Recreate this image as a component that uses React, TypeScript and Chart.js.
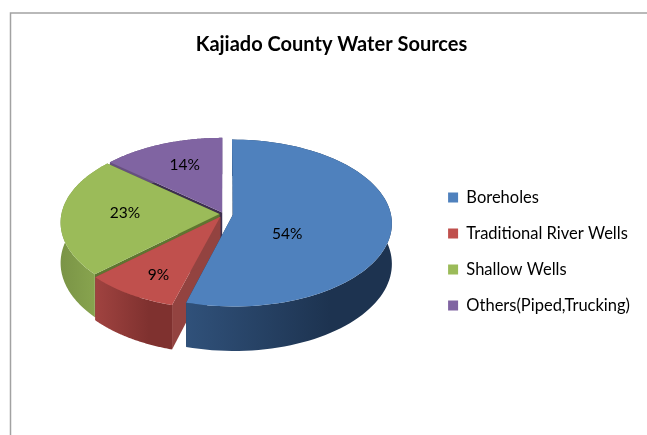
import React, { useEffect, useRef } from "react";
import { Chart, registerables } from "chart.js";

Chart.register(...registerables);

const chartTitle = "Kajiado County Water Sources";
const categories = ["Boreholes", "Traditional River Wells", "Shallow Wells", "Others(Piped,Trucking)"];
const shares = [54.4, 8.7, 23.2, 13.7];
const faceColors = ["#4f81bd", "#c0504d", "#9bbb59", "#8064a2"];
const wallLeftColors = ["#30517a", "#a04340", "#7a9446", "#66507f"];
const wallRightColors = ["#1d3350", "#7f312f", "#87a34e", "#66507f"];
const cutWallColors = ["#1d3350", "#934340", "#5f7530", "#3d2f4f"];
const sliceOffsets = [9.5, 6, 4, 3];
const labelShifts = [[-13.5, 14], [0, 6], [3.5, -2.5], [1, -4]];
const labelReach = [0.43, 0.7, 0.62, 0.62];
const drawOrder = [3, 2, 1, 0];

const squash = 0.522;
const perspective = 0.1;
const depth = 40;
const lift = 37.5;
const nudge = -2.35;

const pie3d = {
  id: "pie3d",
  beforeDraw(chart: any) {
    const { ctx, width, height } = chart;
    ctx.save();
    ctx.fillStyle = "#ffffff";
    ctx.fillRect(0, 0, width, height);
    ctx.strokeStyle = "#a2a2a2";
    ctx.lineWidth = 1.5;
    ctx.beginPath();
    ctx.moveTo(10.5, height);
    ctx.lineTo(10.5, 13);
    ctx.lineTo(width, 13);
    ctx.stroke();
    ctx.restore();
  },
  beforeDatasetDraw(chart: any) {
    const { ctx } = chart;
    const meta = chart.getDatasetMeta(0);
    const geometry = meta.data.map((el: any) => {
      const p = el.getProps(["x", "y", "startAngle", "endAngle", "outerRadius"], true);
      const mid = (p.startAngle + p.endAngle) / 2;
      const off = el.options.offset || 0;
      const R = p.outerRadius;
      const project = (angle: number, reach: number, z: number) => {
        const px = Math.cos(mid) * off + Math.cos(angle) * R * reach;
        const py = Math.sin(mid) * off + Math.sin(angle) * R * reach;
        const w = 1 - (perspective * py) / R;
        return [p.x + nudge + px / w, p.y - lift + (squash * py + depth * z) / w];
      };
      return { ...p, mid, project };
    });

    const arcPoints = (g: any, z: number, reverse = false) => {
      const pts: number[][] = [];
      const n = 90;
      for (let i = 0; i <= n; i++) {
        const t = reverse ? 1 - i / n : i / n;
        pts.push(g.project(g.startAngle + (g.endAngle - g.startAngle) * t, 1, z));
      }
      return pts;
    };
    const fillPoly = (pts: number[][], fill: any) => {
      ctx.beginPath();
      pts.forEach((q, i) => (i ? ctx.lineTo(q[0], q[1]) : ctx.moveTo(q[0], q[1])));
      ctx.closePath();
      ctx.fillStyle = fill;
      ctx.fill();
    };

    ctx.save();
    drawOrder.forEach((i) => {
      const g = geometry[i];
      const a0 = g.project(g.startAngle, 0, 0);
      const a1 = g.project(g.startAngle, 0, 1);
      const s0 = g.project(g.startAngle, 1, 0);
      const s1 = g.project(g.startAngle, 1, 1);
      const e0 = g.project(g.endAngle, 1, 0);
      const e1 = g.project(g.endAngle, 1, 1);
      fillPoly([a0, s0, s1, a1], cutWallColors[i]);
      fillPoly([a0, e0, e1, a1], cutWallColors[i]);

      const top = arcPoints(g, 0);
      const bottom = arcPoints(g, 1, true);
      const xs = top.map((q: number[]) => q[0]);
      const grad = ctx.createLinearGradient(Math.min(...xs), 0, Math.max(...xs), 0);
      grad.addColorStop(0, wallLeftColors[i]);
      grad.addColorStop(0.7, wallRightColors[i]);
      grad.addColorStop(1, wallRightColors[i]);
      fillPoly([...top, ...bottom], grad);

      fillPoly([a0, ...top], faceColors[i]);
    });

    ctx.fillStyle = "#000000";
    ctx.font = "15.5px Lato";
    ctx.textAlign = "center";
    ctx.textBaseline = "middle";
    geometry.forEach((g: any, i: number) => {
      const c = g.project(g.mid, labelReach[i], 0);
      ctx.fillText(`${Math.round(shares[i])}%`, c[0] + labelShifts[i][0], c[1] + labelShifts[i][1]);
    });
    ctx.restore();
    return false;
  },
};

export default function App() {
  const ref = useRef<HTMLCanvasElement | null>(null);
  useEffect(() => {
    const chart = new Chart(ref.current as HTMLCanvasElement, {
      type: "pie",
      data: {
        labels: categories,
        datasets: [
          {
            data: shares,
            backgroundColor: faceColors,
            offset: sliceOffsets,
            borderWidth: 0,
            radius: 158,
          } as any,
        ],
      },
      options: {
        animation: false,
        responsive: false,
        layout: { padding: { left: 23, right: 7, top: 0, bottom: 0 } },
        plugins: {
          title: {
            display: true,
            text: chartTitle,
            color: "#000000",
            font: { family: "Lato", size: 20, weight: "bold" },
            padding: { top: 33, bottom: 11 },
          },
          legend: {
            position: "right",
            fullSize: false,
            labels: {
              boxWidth: 10,
              boxHeight: 10,
              padding: 19.5,
              color: "#000000",
              font: { family: "Lato", size: 16.5 },
            },
          },
          tooltip: { enabled: false },
        },
      } as any,
      plugins: [pie3d as any],
    });
    return () => chart.destroy();
  }, []);
  return (
    <canvas
      ref={ref}
      width={647}
      height={435}
      style={{ position: "fixed", left: 0, top: 0, width: 647, height: 435, display: "block" }}
    />
  );
}
